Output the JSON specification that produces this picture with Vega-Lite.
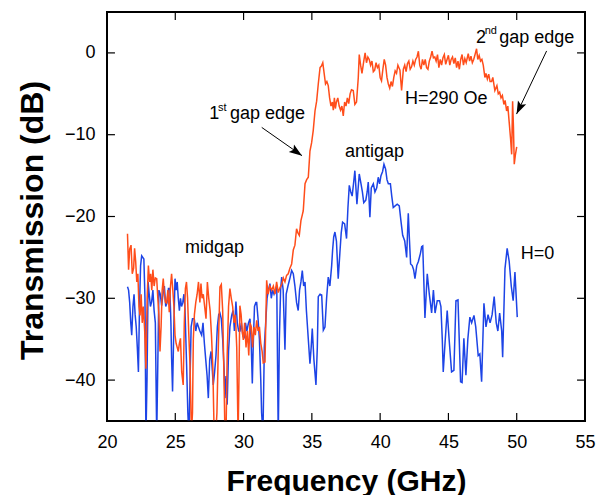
{
  "$schema": "https://vega.github.io/schema/vega-lite/v6.json",
  "width": 478,
  "height": 409,
  "autosize": {"type": "none"},
  "padding": {"left": 107, "top": 12, "right": 19, "bottom": 74},
  "background": "white",
  "config": {
    "view": {"stroke": "black", "strokeWidth": 2},
    "axis": {
      "grid": false,
      "domain": false,
      "ticks": false,
      "tickSize": 0,
      "labelPadding": 12,
      "labelFlush": false,
      "labelFont": "Liberation Sans",
      "labelFontSize": 18,
      "labelColor": "black",
      "titleFont": "Liberation Sans",
      "titleFontWeight": "bold",
      "titleColor": "black"
    },
    "text": {"font": "Liberation Sans", "color": "black"}
  },
  "datasets": {
    "h290": [
      {"f":21.50,"t":-22.1},{"f":21.58,"t":-26.5},{"f":21.66,"t":-24.0},{"f":21.76,"t":-23.5},{"f":21.85,"t":-27.0},{"f":21.95,"t":-26.3},{"f":22.02,"t":-23.9},{"f":22.10,"t":-25.5},{"f":22.18,"t":-28.0},{"f":22.26,"t":-27.0},{"f":22.34,"t":-31.0},{"f":22.42,"t":-32.1},{"f":22.50,"t":-29.5},{"f":22.58,"t":-33.0},{"f":22.66,"t":-31.0},{"f":22.76,"t":-34.0},{"f":22.85,"t":-38.6},{"f":22.94,"t":-30.0},{"f":23.03,"t":-26.0},{"f":23.12,"t":-28.0},{"f":23.20,"t":-27.0},{"f":23.28,"t":-29.0},{"f":23.36,"t":-26.5},{"f":23.45,"t":-28.5},{"f":23.54,"t":-27.5},{"f":23.64,"t":-27.6},{"f":23.72,"t":-30.0},{"f":23.80,"t":-32.0},{"f":23.88,"t":-36.5},{"f":23.96,"t":-33.5},{"f":24.04,"t":-29.0},{"f":24.12,"t":-27.6},{"f":24.20,"t":-29.5},{"f":24.28,"t":-30.5},{"f":24.36,"t":-30.6},{"f":24.46,"t":-29.0},{"f":24.56,"t":-31.7},{"f":24.65,"t":-28.5},{"f":24.73,"t":-27.0},{"f":24.82,"t":-29.0},{"f":24.90,"t":-31.0},{"f":24.98,"t":-34.5},{"f":25.06,"t":-35.5},{"f":25.14,"t":-36.0},{"f":25.22,"t":-36.5},{"f":25.30,"t":-35.5},{"f":25.38,"t":-34.9},{"f":25.47,"t":-39.0},{"f":25.58,"t":-40.6},{"f":25.66,"t":-33.0},{"f":25.74,"t":-28.8},{"f":25.82,"t":-28.0},{"f":25.90,"t":-30.0},{"f":25.98,"t":-34.0},{"f":26.08,"t":-38.2},{"f":26.18,"t":-46.5},{"f":26.26,"t":-44.0},{"f":26.32,"t":-35.0},{"f":26.40,"t":-32.0},{"f":26.50,"t":-30.5},{"f":26.60,"t":-29.5},{"f":26.70,"t":-28.0},{"f":26.80,"t":-30.5},{"f":26.88,"t":-28.2},{"f":26.96,"t":-30.0},{"f":27.05,"t":-29.5},{"f":27.15,"t":-31.0},{"f":27.25,"t":-32.5},{"f":27.35,"t":-28.0},{"f":27.45,"t":-30.0},{"f":27.55,"t":-31.5},{"f":27.65,"t":-34.5},{"f":27.75,"t":-38.5},{"f":27.85,"t":-47.0},{"f":27.95,"t":-47.0},{"f":28.05,"t":-44.0},{"f":28.15,"t":-36.0},{"f":28.27,"t":-28.6},{"f":28.37,"t":-28.3},{"f":28.47,"t":-31.5},{"f":28.57,"t":-40.0},{"f":28.64,"t":-47.0},{"f":28.72,"t":-46.0},{"f":28.80,"t":-37.0},{"f":28.90,"t":-31.0},{"f":29.00,"t":-28.8},{"f":29.10,"t":-30.0},{"f":29.20,"t":-31.0},{"f":29.30,"t":-33.0},{"f":29.40,"t":-32.0},{"f":29.50,"t":-36.0},{"f":29.60,"t":-47.0},{"f":29.66,"t":-40.0},{"f":29.73,"t":-30.9},{"f":29.82,"t":-32.0},{"f":29.90,"t":-34.0},{"f":29.98,"t":-35.1},{"f":30.08,"t":-33.0},{"f":30.18,"t":-36.0},{"f":30.28,"t":-34.0},{"f":30.38,"t":-37.0},{"f":30.47,"t":-33.0},{"f":30.57,"t":-33.5},{"f":30.66,"t":-36.0},{"f":30.76,"t":-33.5},{"f":30.86,"t":-34.5},{"f":30.96,"t":-32.7},{"f":31.06,"t":-34.0},{"f":31.16,"t":-33.5},{"f":31.26,"t":-35.5},{"f":31.36,"t":-36.5},{"f":31.44,"t":-37.9},{"f":31.57,"t":-37.8},{"f":31.69,"t":-27.8},{"f":31.80,"t":-29.5},{"f":31.92,"t":-28.5},{"f":32.06,"t":-29.0},{"f":32.18,"t":-28.5},{"f":32.30,"t":-29.5},{"f":32.42,"t":-28.0},{"f":32.54,"t":-29.3},{"f":32.67,"t":-28.7},{"f":32.79,"t":-28.3},{"f":32.91,"t":-27.5},{"f":33.03,"t":-28.0},{"f":33.15,"t":-27.2},{"f":33.27,"t":-27.0},{"f":33.40,"t":-26.3},{"f":33.52,"t":-25.8},{"f":33.64,"t":-24.1},{"f":33.76,"t":-23.5},{"f":33.88,"t":-21.5},{"f":33.98,"t":-22.0},{"f":34.08,"t":-22.3},{"f":34.20,"t":-20.5},{"f":34.30,"t":-19.8},{"f":34.37,"t":-19.3},{"f":34.50,"t":-16.0},{"f":34.62,"t":-15.5},{"f":34.74,"t":-15.2},{"f":34.86,"t":-12.0},{"f":34.98,"t":-11.0},{"f":35.10,"t":-9.5},{"f":35.23,"t":-7.1},{"f":35.35,"t":-5.9},{"f":35.47,"t":-3.8},{"f":35.60,"t":-1.8},{"f":35.70,"t":-1.6},{"f":35.80,"t":-1.2},{"f":35.90,"t":-2.5},{"f":36.00,"t":-3.8},{"f":36.10,"t":-3.5},{"f":36.20,"t":-4.0},{"f":36.30,"t":-5.5},{"f":36.40,"t":-6.5},{"f":36.50,"t":-6.0},{"f":36.57,"t":-7.0},{"f":36.65,"t":-5.5},{"f":36.72,"t":-6.8},{"f":36.80,"t":-6.0},{"f":36.90,"t":-5.5},{"f":37.00,"t":-6.5},{"f":37.10,"t":-7.0},{"f":37.20,"t":-6.5},{"f":37.30,"t":-7.7},{"f":37.40,"t":-6.0},{"f":37.50,"t":-6.5},{"f":37.60,"t":-5.5},{"f":37.70,"t":-6.2},{"f":37.80,"t":-5.0},{"f":37.90,"t":-4.5},{"f":38.03,"t":-4.6},{"f":38.15,"t":-6.3},{"f":38.27,"t":-6.0},{"f":38.40,"t":-3.0},{"f":38.47,"t":-0.2},{"f":38.57,"t":-1.5},{"f":38.67,"t":-2.5},{"f":38.80,"t":-1.0},{"f":38.90,"t":0.0},{"f":39.00,"t":-1.2},{"f":39.10,"t":-0.5},{"f":39.20,"t":-0.8},{"f":39.30,"t":-1.5},{"f":39.40,"t":-1.0},{"f":39.50,"t":-2.3},{"f":39.60,"t":-2.1},{"f":39.70,"t":-1.2},{"f":39.80,"t":-1.8},{"f":39.90,"t":-1.5},{"f":40.00,"t":-3.0},{"f":40.10,"t":-3.4},{"f":40.20,"t":-2.0},{"f":40.30,"t":-0.8},{"f":40.40,"t":-1.5},{"f":40.50,"t":-3.0},{"f":40.60,"t":-3.8},{"f":40.70,"t":-4.3},{"f":40.80,"t":-3.5},{"f":40.90,"t":-4.1},{"f":41.00,"t":-3.0},{"f":41.10,"t":-2.2},{"f":41.20,"t":-2.5},{"f":41.30,"t":-1.5},{"f":41.45,"t":-2.1},{"f":41.57,"t":-4.6},{"f":41.70,"t":-2.0},{"f":41.80,"t":-1.5},{"f":41.90,"t":-2.3},{"f":42.00,"t":-1.3},{"f":42.10,"t":-1.0},{"f":42.20,"t":-2.0},{"f":42.30,"t":-1.7},{"f":42.40,"t":-1.0},{"f":42.50,"t":-1.5},{"f":42.60,"t":-0.8},{"f":42.70,"t":-0.5},{"f":42.80,"t":0.2},{"f":42.90,"t":-1.5},{"f":43.00,"t":-2.0},{"f":43.10,"t":-0.8},{"f":43.20,"t":-1.5},{"f":43.30,"t":-0.8},{"f":43.40,"t":-1.8},{"f":43.50,"t":-2.0},{"f":43.60,"t":-1.0},{"f":43.70,"t":-0.5},{"f":43.80,"t":0.2},{"f":43.90,"t":-0.6},{"f":44.00,"t":-0.5},{"f":44.10,"t":-1.0},{"f":44.20,"t":-0.2},{"f":44.30,"t":-1.8},{"f":44.40,"t":-0.8},{"f":44.50,"t":-1.5},{"f":44.60,"t":-0.6},{"f":44.70,"t":-0.2},{"f":44.80,"t":-1.4},{"f":44.90,"t":-0.8},{"f":45.00,"t":-0.3},{"f":45.10,"t":-1.5},{"f":45.20,"t":-0.8},{"f":45.30,"t":-0.5},{"f":45.40,"t":-1.3},{"f":45.50,"t":-0.6},{"f":45.60,"t":-1.8},{"f":45.70,"t":-1.0},{"f":45.80,"t":-2.0},{"f":45.90,"t":-0.8},{"f":46.00,"t":-0.2},{"f":46.10,"t":-1.5},{"f":46.20,"t":-0.7},{"f":46.30,"t":-1.2},{"f":46.45,"t":-0.1},{"f":46.55,"t":-1.0},{"f":46.65,"t":-0.4},{"f":46.75,"t":-1.2},{"f":46.85,"t":-0.8},{"f":46.95,"t":-0.2},{"f":47.06,"t":0.5},{"f":47.15,"t":-0.8},{"f":47.25,"t":-0.3},{"f":47.35,"t":-1.0},{"f":47.45,"t":-0.8},{"f":47.55,"t":-1.5},{"f":47.67,"t":-3.0},{"f":47.75,"t":-2.5},{"f":47.85,"t":-3.2},{"f":47.95,"t":-2.6},{"f":48.05,"t":-3.5},{"f":48.16,"t":-3.5},{"f":48.25,"t":-3.0},{"f":48.40,"t":-4.6},{"f":48.55,"t":-4.0},{"f":48.65,"t":-5.0},{"f":48.75,"t":-4.8},{"f":48.85,"t":-5.5},{"f":48.95,"t":-5.2},{"f":49.06,"t":-6.3},{"f":49.15,"t":-5.8},{"f":49.26,"t":-7.1},{"f":49.35,"t":-6.5},{"f":49.45,"t":-8.5},{"f":49.55,"t":-10.5},{"f":49.63,"t":-12.4},{"f":49.70,"t":-5.9},{"f":49.76,"t":-9.0},{"f":49.82,"t":-13.6},{"f":49.90,"t":-12.5},{"f":50.00,"t":-11.5}
    ],
    "h0": [
      {"f":21.50,"t":-28.6},{"f":21.58,"t":-29.0},{"f":21.66,"t":-30.5},{"f":21.74,"t":-33.0},{"f":21.81,"t":-34.5},{"f":21.90,"t":-31.0},{"f":21.98,"t":-29.5},{"f":22.06,"t":-32.0},{"f":22.14,"t":-33.5},{"f":22.22,"t":-36.0},{"f":22.30,"t":-39.0},{"f":22.38,"t":-31.0},{"f":22.46,"t":-26.0},{"f":22.54,"t":-24.8},{"f":22.62,"t":-25.0},{"f":22.70,"t":-25.2},{"f":22.78,"t":-30.0},{"f":22.85,"t":-47.0},{"f":22.93,"t":-40.0},{"f":23.01,"t":-28.0},{"f":23.09,"t":-29.5},{"f":23.18,"t":-31.0},{"f":23.27,"t":-30.4},{"f":23.36,"t":-29.0},{"f":23.45,"t":-31.5},{"f":23.54,"t":-33.0},{"f":23.64,"t":-47.0},{"f":23.72,"t":-38.0},{"f":23.80,"t":-29.0},{"f":23.90,"t":-29.5},{"f":24.00,"t":-30.9},{"f":24.10,"t":-29.5},{"f":24.20,"t":-28.5},{"f":24.30,"t":-31.0},{"f":24.40,"t":-30.5},{"f":24.50,"t":-28.8},{"f":24.60,"t":-28.8},{"f":24.68,"t":-33.0},{"f":24.73,"t":-37.3},{"f":24.80,"t":-41.4},{"f":24.90,"t":-33.0},{"f":24.98,"t":-27.6},{"f":25.06,"t":-29.0},{"f":25.14,"t":-28.0},{"f":25.22,"t":-30.0},{"f":25.30,"t":-31.5},{"f":25.38,"t":-30.0},{"f":25.46,"t":-31.0},{"f":25.55,"t":-30.5},{"f":25.63,"t":-29.5},{"f":25.71,"t":-31.3},{"f":25.83,"t":-38.2},{"f":25.92,"t":-44.0},{"f":26.00,"t":-47.0},{"f":26.08,"t":-40.0},{"f":26.16,"t":-33.5},{"f":26.26,"t":-32.5},{"f":26.39,"t":-32.5},{"f":26.50,"t":-34.0},{"f":26.60,"t":-33.0},{"f":26.70,"t":-33.5},{"f":26.80,"t":-34.0},{"f":26.93,"t":-34.5},{"f":27.03,"t":-33.0},{"f":27.13,"t":-35.5},{"f":27.23,"t":-37.5},{"f":27.33,"t":-39.5},{"f":27.42,"t":-42.2},{"f":27.52,"t":-37.5},{"f":27.62,"t":-36.5},{"f":27.70,"t":-38.5},{"f":27.78,"t":-40.6},{"f":27.88,"t":-39.0},{"f":27.98,"t":-37.0},{"f":28.08,"t":-33.5},{"f":28.18,"t":-32.0},{"f":28.27,"t":-31.8},{"f":28.37,"t":-32.5},{"f":28.47,"t":-35.0},{"f":28.57,"t":-38.5},{"f":28.64,"t":-42.2},{"f":28.72,"t":-39.5},{"f":28.80,"t":-43.0},{"f":28.90,"t":-36.5},{"f":29.00,"t":-33.5},{"f":29.13,"t":-32.1},{"f":29.23,"t":-31.5},{"f":29.33,"t":-34.0},{"f":29.44,"t":-30.4},{"f":29.54,"t":-33.0},{"f":29.64,"t":-34.0},{"f":29.74,"t":-34.0},{"f":29.84,"t":-33.0},{"f":29.94,"t":-34.5},{"f":30.04,"t":-34.9},{"f":30.14,"t":-33.0},{"f":30.24,"t":-34.0},{"f":30.36,"t":-33.0},{"f":30.47,"t":-32.5},{"f":30.55,"t":-35.0},{"f":30.64,"t":-40.4},{"f":30.72,"t":-35.0},{"f":30.80,"t":-31.0},{"f":30.90,"t":-30.5},{"f":30.96,"t":-30.5},{"f":31.06,"t":-32.5},{"f":31.16,"t":-35.0},{"f":31.26,"t":-40.0},{"f":31.32,"t":-44.0},{"f":31.42,"t":-46.5},{"f":31.52,"t":-36.0},{"f":31.62,"t":-33.0},{"f":31.72,"t":-30.0},{"f":31.82,"t":-29.0},{"f":31.93,"t":-28.2},{"f":32.03,"t":-30.0},{"f":32.13,"t":-29.0},{"f":32.23,"t":-29.5},{"f":32.33,"t":-29.0},{"f":32.43,"t":-28.5},{"f":32.54,"t":-47.0},{"f":32.62,"t":-35.0},{"f":32.71,"t":-29.0},{"f":32.79,"t":-27.4},{"f":32.90,"t":-29.0},{"f":33.03,"t":-36.3},{"f":33.12,"t":-29.5},{"f":33.25,"t":-28.5},{"f":33.40,"t":-27.5},{"f":33.52,"t":-26.6},{"f":33.64,"t":-27.0},{"f":33.76,"t":-28.5},{"f":33.88,"t":-30.5},{"f":34.00,"t":-31.5},{"f":34.10,"t":-29.0},{"f":34.20,"t":-28.0},{"f":34.30,"t":-26.6},{"f":34.40,"t":-28.5},{"f":34.50,"t":-28.0},{"f":34.60,"t":-31.5},{"f":34.74,"t":-35.0},{"f":34.86,"t":-38.0},{"f":34.95,"t":-36.0},{"f":35.03,"t":-33.7},{"f":35.15,"t":-37.5},{"f":35.30,"t":-40.6},{"f":35.40,"t":-36.0},{"f":35.47,"t":-29.8},{"f":35.60,"t":-29.5},{"f":35.72,"t":-29.6},{"f":35.84,"t":-33.9},{"f":35.96,"t":-33.5},{"f":36.08,"t":-30.0},{"f":36.20,"t":-27.4},{"f":36.32,"t":-28.5},{"f":36.45,"t":-26.0},{"f":36.52,"t":-24.1},{"f":36.60,"t":-22.5},{"f":36.69,"t":-21.9},{"f":36.80,"t":-23.0},{"f":36.93,"t":-27.6},{"f":37.05,"t":-24.5},{"f":37.15,"t":-22.0},{"f":37.25,"t":-20.7},{"f":37.40,"t":-20.9},{"f":37.54,"t":-22.7},{"f":37.64,"t":-19.0},{"f":37.74,"t":-16.2},{"f":37.85,"t":-17.0},{"f":37.95,"t":-17.5},{"f":38.05,"t":-16.0},{"f":38.15,"t":-14.4},{"f":38.30,"t":-18.5},{"f":38.47,"t":-14.8},{"f":38.60,"t":-16.0},{"f":38.70,"t":-17.0},{"f":38.80,"t":-18.3},{"f":38.95,"t":-18.0},{"f":39.05,"t":-17.0},{"f":39.13,"t":-15.8},{"f":39.25,"t":-20.1},{"f":39.35,"t":-16.5},{"f":39.50,"t":-16.0},{"f":39.62,"t":-17.0},{"f":39.75,"t":-16.5},{"f":39.86,"t":-15.2},{"f":39.96,"t":-16.0},{"f":40.06,"t":-15.0},{"f":40.18,"t":-14.5},{"f":40.28,"t":-13.6},{"f":40.40,"t":-14.2},{"f":40.50,"t":-15.5},{"f":40.60,"t":-16.0},{"f":40.75,"t":-16.0},{"f":40.85,"t":-17.5},{"f":40.96,"t":-18.9},{"f":41.10,"t":-18.7},{"f":41.25,"t":-18.5},{"f":41.40,"t":-18.7},{"f":41.52,"t":-20.5},{"f":41.65,"t":-22.3},{"f":41.80,"t":-23.0},{"f":41.94,"t":-25.0},{"f":42.06,"t":-19.6},{"f":42.15,"t":-23.0},{"f":42.23,"t":-25.8},{"f":42.35,"t":-26.0},{"f":42.45,"t":-26.5},{"f":42.55,"t":-27.6},{"f":42.68,"t":-26.0},{"f":42.80,"t":-25.5},{"f":42.95,"t":-24.5},{"f":43.04,"t":-23.7},{"f":43.12,"t":-23.6},{"f":43.28,"t":-32.4},{"f":43.45,"t":-27.0},{"f":43.60,"t":-29.5},{"f":43.77,"t":-31.8},{"f":43.90,"t":-29.0},{"f":44.02,"t":-31.8},{"f":44.18,"t":-30.3},{"f":44.35,"t":-30.3},{"f":44.45,"t":-31.0},{"f":44.55,"t":-35.0},{"f":44.62,"t":-39.0},{"f":44.75,"t":-35.5},{"f":44.91,"t":-31.5},{"f":45.05,"t":-35.0},{"f":45.23,"t":-39.0},{"f":45.40,"t":-38.8},{"f":45.55,"t":-30.3},{"f":45.70,"t":-30.2},{"f":45.89,"t":-40.2},{"f":46.00,"t":-40.3},{"f":46.13,"t":-34.9},{"f":46.28,"t":-39.4},{"f":46.42,"t":-35.0},{"f":46.57,"t":-32.3},{"f":46.70,"t":-33.0},{"f":46.87,"t":-32.1},{"f":47.00,"t":-33.5},{"f":47.18,"t":-37.0},{"f":47.30,"t":-36.8},{"f":47.43,"t":-40.2},{"f":47.60,"t":-30.6},{"f":47.75,"t":-33.5},{"f":47.90,"t":-32.0},{"f":48.05,"t":-33.0},{"f":48.20,"t":-32.0},{"f":48.35,"t":-29.8},{"f":48.50,"t":-33.0},{"f":48.62,"t":-34.0},{"f":48.75,"t":-31.8},{"f":48.90,"t":-34.0},{"f":48.97,"t":-37.2},{"f":49.14,"t":-26.4},{"f":49.30,"t":-23.9},{"f":49.45,"t":-25.5},{"f":49.60,"t":-28.5},{"f":49.74,"t":-30.3},{"f":49.87,"t":-26.8},{"f":50.04,"t":-32.3}
    ],
    "labels": [
      {"f":27.49,"t":-8.09,"label":"1"},
      {"f":29.0,"t":-8.09,"label":"gap edge"},
      {"f":47.01,"t":1.26,"label":"2"},
      {"f":48.72,"t":1.26,"label":"gap edge"},
      {"f":41.82,"t":-6.26,"label":"H=290 Oe"},
      {"f":37.42,"t":-12.77,"label":"antigap"},
      {"f":25.71,"t":-24.47,"label":"midgap"},
      {"f":50.29,"t":-25.16,"label":"H=0"}
    ],
    "sups": [
      {"f":28.12,"t":-7.07,"label":"st"},
      {"f":47.66,"t":2.28,"label":"nd"}
    ],
    "arrows": [
      {"name":"a1","f":31.33,"t":-9.11,"f2":34.28,"t2":-12.56},
      {"name":"a2","f":52.19,"t":0.24,"f2":49.99,"t2":-7.48}
    ],
    "xticks": [{"v":25},{"v":30},{"v":35},{"v":40},{"v":45},{"v":50}],
    "yticks": [{"v":-40},{"v":-30},{"v":-20},{"v":-10},{"v":0}],
    "one": [{"k":1}]
  },
  "layer": [
    {
      "data": {"name": "h0"},
      "mark": {"type": "line", "color": "#1d44e6", "strokeWidth": 1.5, "clip": true},
      "encoding": {
        "x": {"field": "f", "type": "quantitative", "scale": {"domain": [20, 55], "nice": false, "zero": false},
          "axis": {"orient": "bottom", "values": [20, 25, 30, 35, 40, 45, 50, 55], "title": "Frequency (GHz)", "titleFontSize": 30, "titleBaseline": "alphabetic", "titleY": 69}},
        "y": {"field": "t", "type": "quantitative", "scale": {"domain": [-45, 5], "nice": false, "zero": false},
          "axis": {"orient": "left", "values": [-40, -30, -20, -10, 0], "title": "Transmission (dB)", "titleFontSize": 32, "titleBaseline": "alphabetic", "titleX": -65, "titleY": 208}}
      }
    },
    {
      "data": {"name": "h290"},
      "mark": {"type": "line", "color": "#ff4d1a", "strokeWidth": 1.5, "clip": true},
      "encoding": {
        "x": {"field": "f", "type": "quantitative"},
        "y": {"field": "t", "type": "quantitative"}
      }
    },
    {
      "data": {"name": "labels"},
      "mark": {"type": "text", "fontSize": 18, "align": "left", "baseline": "alphabetic"},
      "encoding": {
        "x": {"field": "f", "type": "quantitative"},
        "y": {"field": "t", "type": "quantitative"},
        "text": {"field": "label"}
      }
    },
    {
      "data": {"name": "sups"},
      "mark": {"type": "text", "fontSize": 11, "align": "left", "baseline": "alphabetic"},
      "encoding": {
        "x": {"field": "f", "type": "quantitative"},
        "y": {"field": "t", "type": "quantitative"},
        "text": {"field": "label"}
      }
    },
    {
      "data": {"name": "arrows"},
      "mark": {"type": "rule", "color": "black", "strokeWidth": 1},
      "encoding": {
        "x": {"field": "f", "type": "quantitative"},
        "y": {"field": "t", "type": "quantitative"},
        "x2": {"field": "f2"},
        "y2": {"field": "t2"}
      }
    },
    {
      "data": {"name": "arrows"},
      "transform": [{"filter": "datum.name === 'a1'"}],
      "mark": {"type": "point", "shape": "M0,0L-0.35,1L0,0.8L0.35,1Z", "size": 676, "filled": true, "color": "black", "opacity": 1, "angle": 125},
      "encoding": {
        "x": {"field": "f2", "type": "quantitative"},
        "y": {"field": "t2", "type": "quantitative"}
      }
    },
    {
      "data": {"name": "arrows"},
      "transform": [{"filter": "datum.name === 'a2'"}],
      "mark": {"type": "point", "shape": "M0,0L-0.35,1L0,0.8L0.35,1Z", "size": 676, "filled": true, "color": "black", "opacity": 1, "angle": 205},
      "encoding": {
        "x": {"field": "f2", "type": "quantitative"},
        "y": {"field": "t2", "type": "quantitative"}
      }
    },
    {
      "data": {"name": "xticks"},
      "mark": {"type": "tick", "orient": "vertical", "color": "black", "size": 8, "thickness": 1.2, "opacity": 1},
      "encoding": {
        "x": {"field": "v", "type": "quantitative"},
        "y": {"datum": -44.51, "type": "quantitative"}
      }
    },
    {
      "data": {"name": "xticks"},
      "mark": {"type": "tick", "orient": "vertical", "color": "black", "size": 8, "thickness": 1.2, "opacity": 1},
      "encoding": {
        "x": {"field": "v", "type": "quantitative"},
        "y": {"datum": 4.51, "type": "quantitative"}
      }
    },
    {
      "data": {"name": "yticks"},
      "mark": {"type": "tick", "orient": "horizontal", "color": "black", "size": 8, "thickness": 1.2, "opacity": 1},
      "encoding": {
        "y": {"field": "v", "type": "quantitative"},
        "x": {"datum": 20.29, "type": "quantitative"}
      }
    },
    {
      "data": {"name": "yticks"},
      "mark": {"type": "tick", "orient": "horizontal", "color": "black", "size": 8, "thickness": 1.2, "opacity": 1},
      "encoding": {
        "y": {"field": "v", "type": "quantitative"},
        "x": {"datum": 54.71, "type": "quantitative"}
      }
    },
    {
      "data": {"name": "one"},
      "mark": {"type": "rect", "color": "black", "opacity": 1},
      "encoding": {
        "x": {"datum": 19.94, "type": "quantitative"}, "x2": {"datum": 20.07},
        "y": {"datum": -45.1, "type": "quantitative"}, "y2": {"datum": 5.1}
      }
    },
    {
      "data": {"name": "one"},
      "mark": {"type": "rect", "color": "black", "opacity": 1},
      "encoding": {
        "x": {"datum": 54.93, "type": "quantitative"}, "x2": {"datum": 55.06},
        "y": {"datum": -45.1, "type": "quantitative"}, "y2": {"datum": 5.1}
      }
    },
    {
      "data": {"name": "one"},
      "mark": {"type": "rect", "color": "black", "opacity": 1},
      "encoding": {
        "x": {"datum": 19.94, "type": "quantitative"}, "x2": {"datum": 55.06},
        "y": {"datum": -45.11, "type": "quantitative"}, "y2": {"datum": -44.9}
      }
    },
    {
      "data": {"name": "one"},
      "mark": {"type": "rect", "color": "black", "opacity": 1},
      "encoding": {
        "x": {"datum": 19.94, "type": "quantitative"}, "x2": {"datum": 55.06},
        "y": {"datum": 4.9, "type": "quantitative"}, "y2": {"datum": 5.11}
      }
    }
  ]
}
